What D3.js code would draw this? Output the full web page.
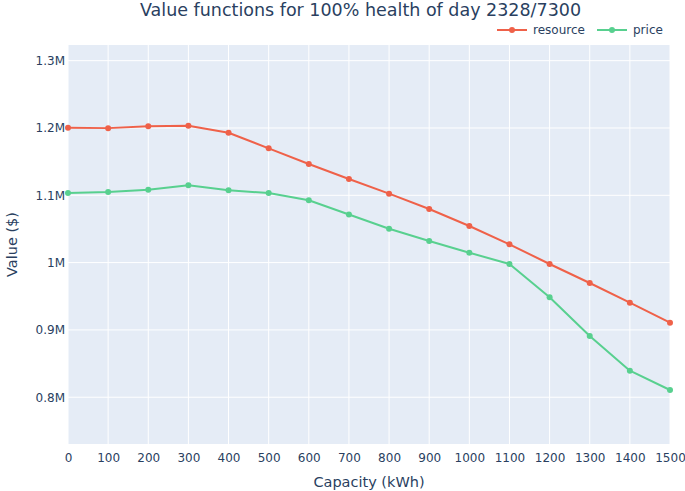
<!DOCTYPE html>
<html>
<head>
<meta charset="utf-8">
<script src="https://cdn.jsdelivr.net/npm/d3@7"></script>
<style>
  html, body { margin: 0; padding: 0; background: #fff; }
  svg { display: block; font-family: "DejaVu Sans", Verdana, sans-serif; }
</style>
</head>
<body>
<svg id="chart" width="685" height="491"></svg>
<script>
const capacities = [0, 100, 200, 300, 400, 500, 600, 700, 800, 900, 1000, 1100, 1200, 1300, 1400, 1500];
const resourceValues = [1200400, 1199800, 1202500, 1203400, 1193000, 1169800, 1146500, 1124200, 1102400, 1079600, 1054400, 1027200, 997900, 969700, 940400, 910700];
const priceValues = [1103400, 1104900, 1108300, 1114900, 1107400, 1103400, 1092600, 1071500, 1050400, 1032100, 1014700, 997900, 948400, 890900, 839400, 810700];
const xTicks = [0, 100, 200, 300, 400, 500, 600, 700, 800, 900, 1000, 1100, 1200, 1300, 1400, 1500];
const yTicks = [800000, 900000, 1000000, 1100000, 1200000, 1300000];
const yTickLabels = ["0.8M", "0.9M", "1M", "1.1M", "1.2M", "1.3M"];
const seriesNames = ["resource", "price"];
const seriesColors = ["#EF6149", "#58D08F"];
const titleText = "Value functions for 100% health of day 2328/7300";
const xTitle = "Capacity (kWh)";
const yTitle = "Value ($)";

const svg = d3.select("#chart");
const W = 685, H = 491;
const m = { left: 68, right: 15, top: 45, bottom: 47 };
const pw = W - m.left - m.right, ph = H - m.top - m.bottom;
const textColor = "#2a3f5f";

const x = d3.scaleLinear().domain([0, 1500]).range([m.left, m.left + pw]);
const y = d3.scaleLinear().domain([730500, 1323300]).range([m.top + ph, m.top]);

// background
svg.append("rect").attr("x", m.left).attr("y", m.top).attr("width", pw).attr("height", ph).attr("fill", "#E5ECF6");

// gridlines
const g = svg.append("g");
g.selectAll(".vg").data(xTicks).enter().append("line")
  .attr("x1", d => x(d)).attr("x2", d => x(d))
  .attr("y1", m.top).attr("y2", m.top + ph)
  .attr("stroke", "#fff").attr("stroke-width", 1);
g.selectAll(".hg").data(yTicks).enter().append("line")
  .attr("x1", m.left).attr("x2", m.left + pw)
  .attr("y1", d => y(d)).attr("y2", d => y(d))
  .attr("stroke", "#fff").attr("stroke-width", 1);

// axes (labels only)
const xAxis = d3.axisBottom(x).tickValues(xTicks).tickSize(0).tickPadding(9).tickFormat(d3.format("d"));
const xg = svg.append("g").attr("transform", `translate(0,${m.top + ph})`).call(xAxis);
xg.select(".domain").remove();
xg.selectAll("text").attr("fill", textColor).style("font-size", "12px").style("font-family", "DejaVu Sans, Verdana, sans-serif");

const yAxis = d3.axisLeft(y).tickValues(yTicks).tickSize(0).tickPadding(3)
  .tickFormat((d, i) => yTickLabels[i]);
const yg = svg.append("g").attr("transform", `translate(${m.left},0)`).call(yAxis);
yg.select(".domain").remove();
yg.selectAll("text").attr("fill", textColor).style("font-size", "12px").style("font-family", "DejaVu Sans, Verdana, sans-serif");

// series
const allSeries = [resourceValues, priceValues];
const line = d3.line().x((d, i) => x(capacities[i])).y(d => y(d));
const clip = svg.append("clipPath").attr("id", "clip").append("rect")
  .attr("x", m.left).attr("y", m.top).attr("width", pw).attr("height", ph);
allSeries.forEach((vals, si) => {
  const sg = svg.append("g");
  sg.append("path").datum(vals).attr("d", line)
    .attr("fill", "none").attr("stroke", seriesColors[si]).attr("stroke-width", 2)
    .attr("stroke-linejoin", "round");
  sg.selectAll("circle").data(vals).enter().append("circle")
    .attr("cx", (d, i) => x(capacities[i])).attr("cy", d => y(d)).attr("r", 3)
    .attr("fill", seriesColors[si]);
});

// title
svg.append("text").attr("x", 360.5).attr("y", 16).attr("text-anchor", "middle")
  .attr("fill", textColor).style("font-size", "17.5px").text(titleText);

// axis titles
svg.append("text").attr("x", m.left + pw / 2).attr("y", 487).attr("text-anchor", "middle")
  .attr("fill", textColor).style("font-size", "14.5px").text(xTitle);
svg.append("text").attr("transform", `translate(17,${m.top + ph / 2}) rotate(-90)`)
  .attr("text-anchor", "middle").attr("fill", textColor).style("font-size", "14.5px").text(yTitle);

// legend
const legendItems = [{ x: 497 }, { x: 597 }];
seriesNames.forEach((name, i) => {
  const lx = legendItems[i].x, ly = 30;
  svg.append("line").attr("x1", lx).attr("x2", lx + 30).attr("y1", ly).attr("y2", ly)
    .attr("stroke", seriesColors[i]).attr("stroke-width", 2);
  svg.append("circle").attr("cx", lx + 15).attr("cy", ly).attr("r", 3).attr("fill", seriesColors[i]);
  svg.append("text").attr("x", lx + 36).attr("y", ly + 4.3).attr("fill", textColor)
    .style("font-size", "12px").text(name);
});
</script>
</body>
</html>
